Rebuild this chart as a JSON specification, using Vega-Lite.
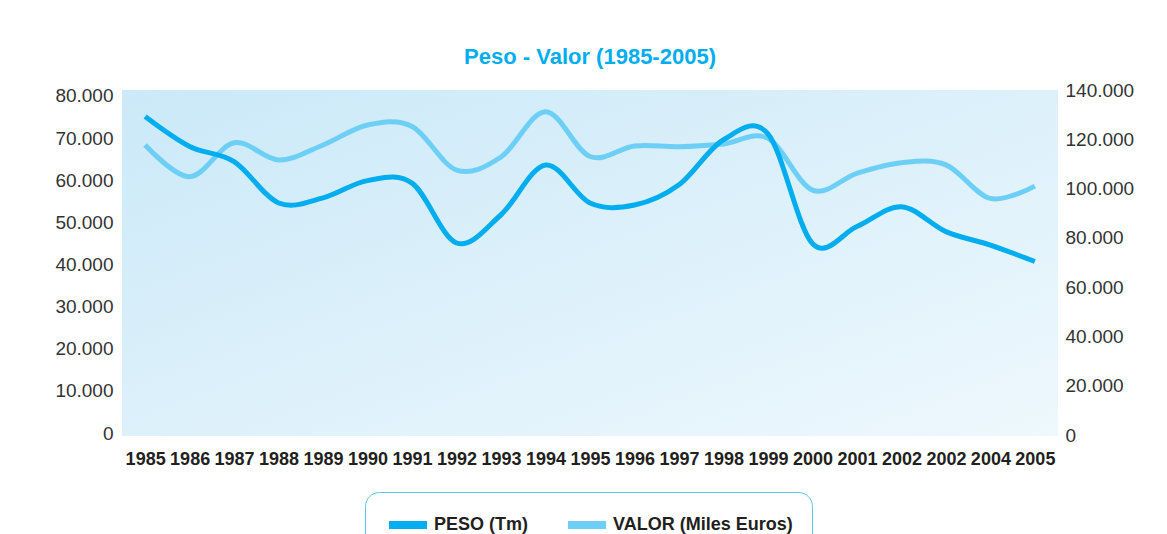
{
  "$schema": "https://vega.github.io/schema/vega-lite/v6.json",
  "width": 936,
  "height": 346,
  "autosize": {"type": "none"},
  "padding": {"left": 122, "top": 90, "right": 109, "bottom": 98},
  "background": "white",
  "title": {
    "text": "Peso - Valor (1985-2005)",
    "anchor": "middle",
    "font": "Liberation Sans",
    "fontSize": 22,
    "fontWeight": "bold",
    "color": "#00aeef",
    "offset": 12
  },
  "config": {
    "view": {
      "stroke": null,
      "fill": {"gradient": "linear", "x1": 0, "y1": 0, "x2": 1, "y2": 1,
        "stops": [{"offset": 0, "color": "#cbe9f8"}, {"offset": 1, "color": "#eef8fd"}]}
    },
    "axis": {
      "labelFont": "Liberation Sans",
      "grid": false,
      "ticks": false,
      "domain": false,
      "title": null
    },
    "legend": {
      "orient": "none",
      "legendX": 243,
      "legendY": 402,
      "direction": "horizontal",
      "title": null,
      "labelFont": "Liberation Sans",
      "labelFontSize": 18,
      "labelFontWeight": "bold",
      "labelColor": "#231f20",
      "labelLimit": 400,
      "symbolType": "M-1.9,0H1.9",
      "symbolSize": 400,
      "symbolStrokeWidth": 8,
      "symbolOffset": 10,
      "labelOffset": 12,
      "strokeColor": "#5bc5f2",
      "fillColor": "white",
      "cornerRadius": 14,
      "padding": 19,
      "columnPadding": 23
    }
  },
  "data": {
    "values": [
      {"year": "1985", "peso": 75100, "valor": 117700},
      {"year": "1986", "peso": 68000, "valor": 104800},
      {"year": "1987", "peso": 64400, "valor": 118600},
      {"year": "1988", "peso": 54600, "valor": 111600},
      {"year": "1989", "peso": 55800, "valor": 117700},
      {"year": "1990", "peso": 59900, "valor": 125800},
      {"year": "1991", "peso": 59300, "valor": 125200},
      {"year": "1992", "peso": 45100, "valor": 107500},
      {"year": "1993", "peso": 51800, "valor": 112800},
      {"year": "1994", "peso": 63600, "valor": 131200},
      {"year": "1995", "peso": 54600, "valor": 113000},
      {"year": "1996", "peso": 54100, "valor": 117300},
      {"year": "1997", "peso": 58900, "valor": 117000},
      {"year": "1998", "peso": 69600, "valor": 118100},
      {"year": "1999", "peso": 71000, "valor": 120400},
      {"year": "2000", "peso": 45000, "valor": 99400},
      {"year": "2001", "peso": 49000, "valor": 106200},
      {"year": "2002", "peso": 53700, "valor": 110500},
      {"year": "2003", "peso": 47800, "valor": 109600},
      {"year": "2004", "peso": 44600, "valor": 96000},
      {"year": "2005", "peso": 40700, "valor": 101000}
    ]
  },
  "encoding": {
    "x": {
      "field": "year",
      "type": "ordinal",
      "scale": {"type": "point", "padding": 0.52},
      "axis": {
        "labelAngle": 0,
        "labelFontSize": 18,
        "labelFontWeight": "bold",
        "labelColor": "#231f20",
        "labelPadding": 14,
        "labelExpr": "datum.value == '2003' ? '2002' : datum.value"
      }
    }
  },
  "layer": [
    {
      "mark": {"type": "line", "interpolate": "cardinal", "strokeWidth": 5},
      "encoding": {
        "y": {
          "field": "valor",
          "type": "quantitative",
          "scale": {"domain": [-400, 140000], "nice": false, "zero": false},
          "axis": {
            "orient": "right",
            "values": [0, 20000, 40000, 60000, 80000, 100000, 120000, 140000],
            "labelExpr": "replace(format(datum.value, ','), ',', '.')",
            "labelFontSize": 19,
            "labelColor": "#333333",
            "labelPadding": 7
          }
        },
        "color": {"datum": "VALOR (Miles Euros)", "type": "nominal",
          "scale": {"domain": ["PESO (Tm)", "VALOR (Miles Euros)"], "range": ["#00aeef", "#6dcff6"]}}
      }
    },
    {
      "mark": {"type": "line", "interpolate": "cardinal", "strokeWidth": 5},
      "encoding": {
        "y": {
          "field": "peso",
          "type": "quantitative",
          "scale": {"domain": [-700, 81400], "nice": false, "zero": false},
          "axis": {
            "orient": "left",
            "values": [0, 10000, 20000, 30000, 40000, 50000, 60000, 70000, 80000],
            "labelExpr": "replace(format(datum.value, ','), ',', '.')",
            "labelFontSize": 19,
            "labelColor": "#333333",
            "labelPadding": 9
          }
        },
        "color": {"datum": "PESO (Tm)", "type": "nominal"}
      }
    }
  ],
  "resolve": {"scale": {"y": "independent"}}
}
